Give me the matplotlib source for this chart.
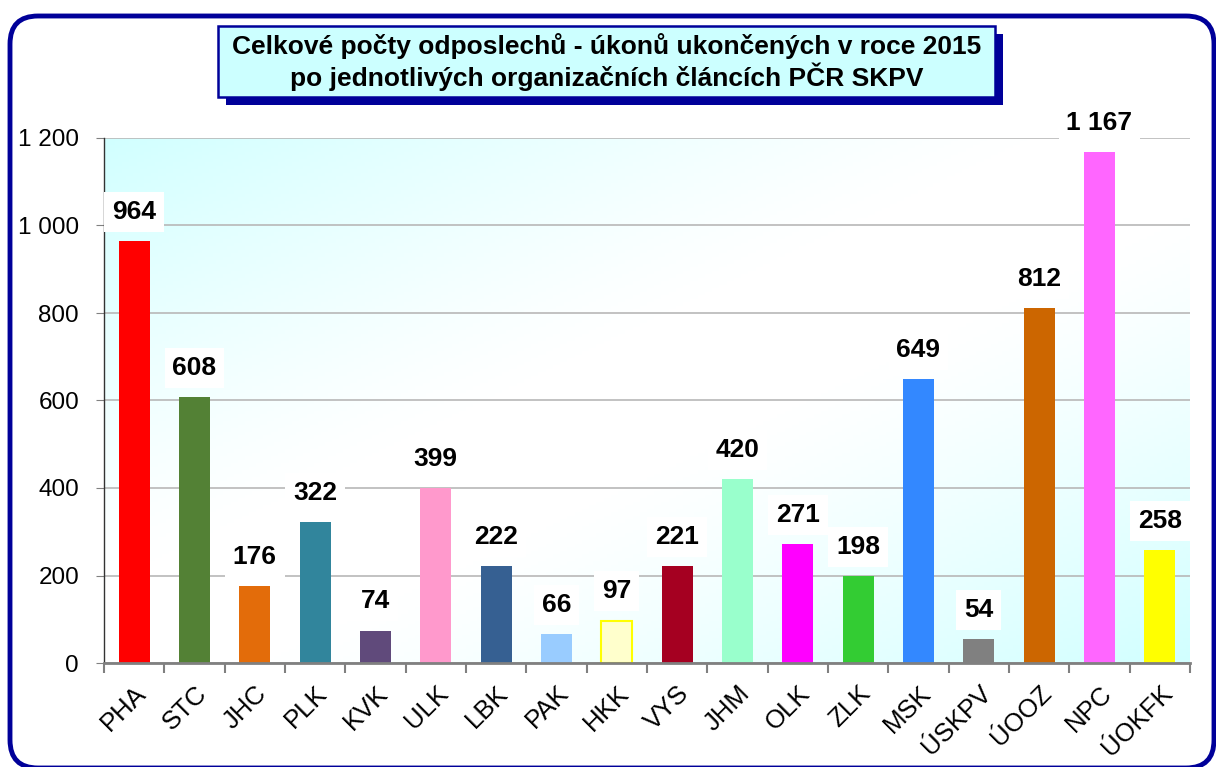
import numpy as np
import matplotlib
matplotlib.use("Agg")
import matplotlib.pyplot as plt
import matplotlib.patches as mpatches

plt.rcParams['font.family'] = ['Liberation Sans', 'DejaVu Sans']

categories = ["PHA", "STC", "JHC", "PLK", "KVK", "ULK", "LBK", "PAK", "HKK", "VYS",
              "JHM", "OLK", "ZLK", "MSK", "ÚSKPV", "ÚOOZ", "NPC", "ÚOKFK"]
values = [964, 608, 176, 322, 74, 399, 222, 66, 97, 221,
          420, 271, 198, 649, 54, 812, 1167, 258]
colors = ["#FF0000", "#538135", "#E36C0A", "#31859C", "#604A7B", "#FF99CC", "#366092",
          "#99CCFF", "#FFFFCC", "#A50021", "#99FFCC", "#FF00FF", "#33CC33", "#3388FF",
          "#808080", "#CC6600", "#FF66FF", "#FFFF00"]
edges = ["none"] * 8 + ["#FFFF00"] + ["none"] * 9
yticks = [0, 200, 400, 600, 800, 1000, 1200]
title = "Celkové počty odposlechů - úkonů ukončených v roce 2015\npo jednotlivých organizačních článcích PČR SKPV"

W, H = 1216, 767
fig = plt.figure(figsize=(W / 100, H / 100), dpi=100)

# background layer in pixel units (frame + title box)
bg = fig.add_axes([0, 0, 1, 1], zorder=0)
bg.set_xlim(0, W)
bg.set_ylim(H, 0)
bg.axis("off")
frame = mpatches.FancyBboxPatch((10, 16), 1204, 752, boxstyle="round,pad=0,rounding_size=28",
                                fc="white", ec="#000099", lw=3.5)
bg.add_patch(frame)
shadow = mpatches.Rectangle((226, 34), 777, 71, fc="#000099", ec="none")
bg.add_patch(shadow)
tbox = mpatches.Rectangle((218, 26), 777, 71, fc="#CCFFFF", ec="#000099", lw=1.8)
bg.add_patch(tbox)
bg.text(607, 62, title, ha="center", va="center", fontsize=19, fontweight="bold",
        linespacing=1.18)

ax = fig.add_axes([104 / W, 1 - 663 / H, (1190 - 104) / W, (663 - 138) / H], zorder=1)
x = np.arange(len(categories))
ax.set_xlim(-0.5, len(categories) - 0.5)

# diagonal gradient: cyan at top-left and bottom-right, white band across
u = np.linspace(0, 1, 300)
v = np.linspace(0, 1, 150)
U, V = np.meshgrid(u, v)
d = np.abs(U + V - 1.0)
t = np.clip((d - 0.15) / 0.85, 0, 1) ** 1.2
cyan = np.array([0.82, 1.0, 1.0])
img = 1 - t[..., None] * (1 - cyan)
ax.imshow(img, extent=[-0.5, len(categories) - 0.5, 0, 1200], origin="upper",
          aspect="auto", zorder=0)
ax.set_ylim(0, 1200)

ax.yaxis.grid(True, color="#B8B8B8", lw=1.2, zorder=1)
ax.set_axisbelow(True)
ax.bar(x, values, width=0.51, color=colors, edgecolor=edges, linewidth=1.5, zorder=2)

for xi, val in zip(x, values):
    lab = f"{val:,}".replace(",", " ")
    ax.annotate(lab, (xi, val), xytext=(0, 21), textcoords="offset points",
                ha="center", va="center", fontsize=19, fontweight="bold",
                bbox=dict(boxstyle="square,pad=0.3", fc="white", ec="none"),
                zorder=4, annotation_clip=False)

ax.set_yticks(yticks)
ax.set_yticklabels([f"{t_:,}".replace(",", " ") for t_ in yticks], fontsize=17.5)
ax.tick_params(axis="y", direction="out", length=6, color="#808080", pad=12)

ax.set_xticks(x)
ax.set_xticklabels(categories, rotation=45, ha="right", rotation_mode="anchor", fontsize=18.5)
ax.set_xticks(np.arange(-0.5, len(categories)), minor=True)
ax.tick_params(axis="x", which="major", length=0, pad=13)
ax.tick_params(axis="x", which="minor", direction="out", length=7, color="#808080", width=1.5)

for s in ["top", "right"]:
    ax.spines[s].set_visible(False)
ax.spines["left"].set_color("#333333")
ax.spines["left"].set_linewidth(1)
ax.spines["bottom"].set_color("#808080")
ax.spines["bottom"].set_linewidth(2)
ax.spines["bottom"].set_zorder(3)

fig.savefig("out.png", dpi=100)
